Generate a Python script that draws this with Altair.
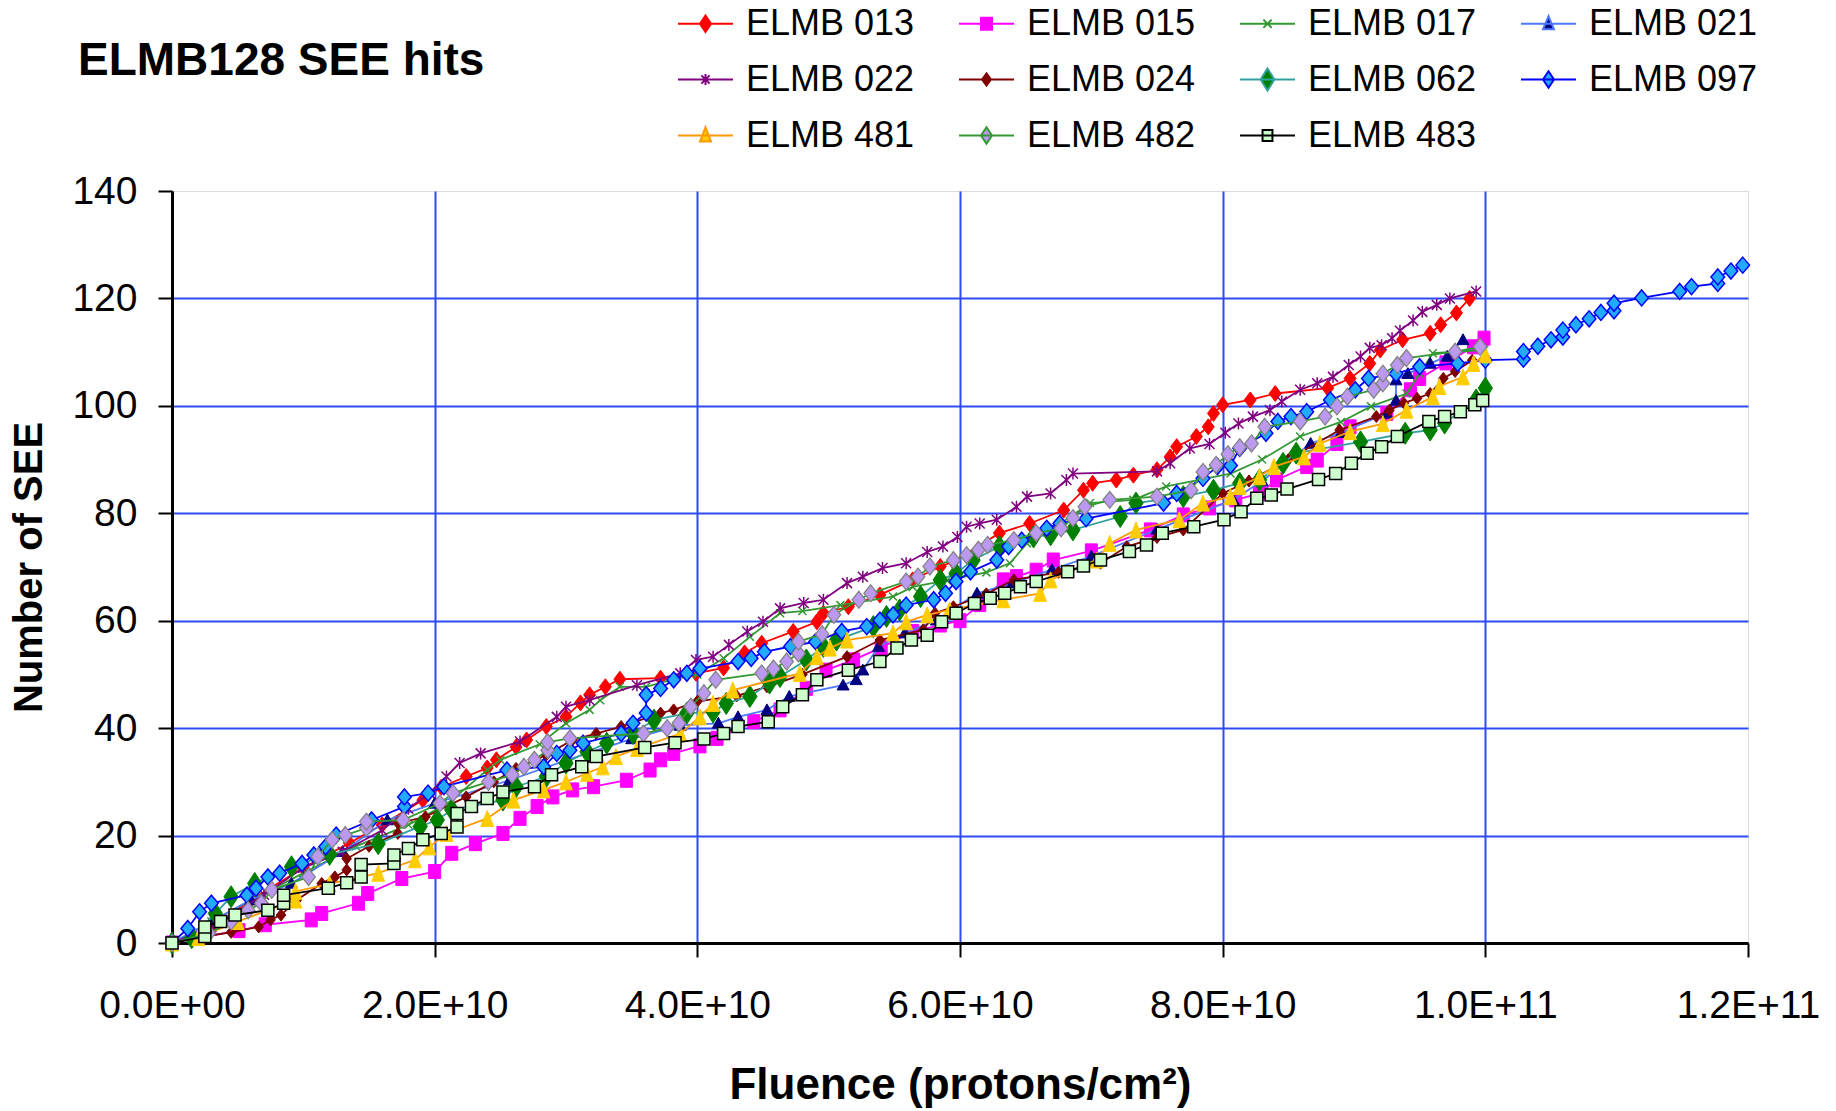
import altair as alt
import pandas as pd

# ---------------- data (fluence in units of 1E+10 protons/cm2, number of SEE) ----------------
SERIES = ["ELMB 013", "ELMB 015", "ELMB 017", "ELMB 021", "ELMB 022", "ELMB 024",
          "ELMB 062", "ELMB 097", "ELMB 481", "ELMB 482", "ELMB 483"]

S013 = [(0, 0), (0.3, 3), (0.6, 8), (1.0, 14), (1.35, 18.6), (1.6, 22), (1.91, 26.6), (2.05, 29),
        (2.24, 31), (2.40, 32.6), (2.47, 34.1), (2.62, 36.5), (2.70, 37.8), (2.85, 40.3), (3.0, 42.1),
        (3.11, 44.7), (3.18, 46.2), (3.30, 47.7), (3.41, 49.1), (3.72, 49.3), (3.99, 50.2), (4.20, 51.2),
        (4.36, 54), (4.49, 55.8), (4.73, 58), (4.91, 59.8), (4.96, 61.4), (5.15, 62.6), (5.39, 64.8),
        (5.64, 67.6), (5.85, 70.1), (5.95, 71), (6.30, 76.3), (6.53, 78.1), (6.79, 80.6), (6.94, 84.3),
        (7.01, 85.6), (7.19, 86.2), (7.32, 87.1), (7.50, 88.1), (7.60, 90.5), (7.65, 92.4), (7.80, 94.3),
        (7.89, 96.1), (7.93, 98.6), (8.0, 100.2), (8.21, 101.1), (8.40, 102.3), (8.80, 103.3),
        (8.97, 105.1), (9.12, 107.9), (9.20, 110.4), (9.37, 112.3), (9.58, 113.5), (9.66, 115.1),
        (9.78, 117.3), (9.88, 120)]

S015 = [(0, 0), (0.2, 1), (0.51, 2.3), (0.71, 3.4), (1.06, 4.3), (1.14, 5.5), (1.42, 7.4), (1.49, 9.2),
        (1.75, 12), (2.0, 13.3), (2.13, 16.7), (2.31, 18.5), (2.52, 20.4), (2.65, 23.2), (2.78, 25.4),
        (2.90, 27.2), (3.05, 28.5), (3.21, 29.1), (3.46, 30.3), (3.64, 32.2), (3.72, 34.1), (3.82, 35.3),
        (4.02, 36.7), (4.15, 38.1), (4.43, 41.2), (4.63, 43.4), (4.83, 47.4), (4.98, 50.8), (5.19, 52.7),
        (5.40, 55), (5.64, 58), (5.85, 59.2), (6.0, 60), (6.15, 63), (6.33, 67.6), (6.43, 68.2),
        (6.58, 69.4), (6.71, 71.3), (7.0, 73), (7.45, 76.9), (7.70, 79.7), (7.9, 81), (8.1, 82.5),
        (8.28, 83.7), (8.41, 86.2), (8.64, 88.7), (8.72, 89.9), (8.87, 93), (8.97, 96.1), (9.25, 98.6),
        (9.43, 103), (9.50, 105.1), (9.70, 108), (9.91, 111), (9.99, 112.6)]

S017 = [(0, 0), (0.3, 4), (0.6, 8), (1.0, 13), (1.4, 18), (1.8, 22), (2.1, 26), (2.40, 32.2),
        (2.50, 34.1), (2.8, 37), (3.0, 40.9), (3.18, 43.4), (3.26, 45.2), (3.41, 47.7), (3.61, 47.7),
        (3.8, 49), (4.0, 50), (4.2, 53), (4.4, 57), (4.63, 61.4), (4.8, 61.8), (5.09, 62.9), (5.49, 64.5),
        (5.64, 66.3), (5.9, 67.5), (6.2, 69), (6.38, 70.7), (6.51, 74.4), (6.7, 77), (6.99, 81.9),
        (7.32, 82.5), (7.57, 85), (8.06, 87.4), (8.3, 90), (8.59, 94.3), (8.9, 97), (9.13, 99.9),
        (9.40, 102.3), (9.5, 106), (9.60, 109.8), (9.99, 110.4)]

S021 = [(0, 0), (0.3, 4), (0.6, 8), (0.91, 11.1), (1.3, 17), (1.64, 22.9), (2.0, 26), (2.57, 30.3),
        (3.0, 34), (3.5, 38), (3.87, 40.5), (4.16, 40.9), (4.31, 42.1), (4.53, 43.4), (4.70, 45.9),
        (5.11, 48), (5.21, 49), (5.26, 50.8), (5.38, 55.2), (5.58, 57.7), (5.82, 60.1), (6.13, 65.1),
        (6.4, 67), (6.7, 69.5), (7.0, 72), (7.5, 77), (8.08, 82.5), (8.3, 86), (8.67, 93), (8.9, 95),
        (9.25, 98.6), (9.32, 101), (9.32, 104.8), (9.41, 106), (9.58, 107.9), (9.71, 109.2), (9.83, 112.3)]

S022 = [(0, 0), (0.3, 3), (0.7, 9), (1.0, 14), (1.3, 17), (1.6, 21), (1.8, 25), (1.96, 27.9), (2.09, 31),
        (2.19, 33.5), (2.35, 35.3), (2.65, 37.5), (2.93, 42.1), (3.0, 44), (3.18, 45.2), (3.54, 48),
        (3.87, 50.2), (3.99, 52.7), (4.12, 53.3), (4.24, 55.5), (4.38, 58), (4.50, 59.8), (4.63, 62.3),
        (4.81, 63.3), (4.96, 63.9), (5.14, 67), (5.26, 68.2), (5.41, 69.8), (5.59, 70.7), (5.75, 72.8),
        (5.87, 73.8), (5.98, 75.6), (6.05, 77.5), (6.15, 78.1), (6.28, 78.8), (6.43, 81.2), (6.51, 83.1),
        (6.69, 83.7), (6.81, 86.2), (6.86, 87.4), (7.50, 87.8), (7.60, 89.3), (7.75, 92.1), (7.90, 92.9),
        (8.02, 95), (8.12, 96.7), (8.23, 98), (8.36, 99.2), (8.45, 100.8), (8.59, 103), (8.72, 104.2),
        (8.84, 105.4), (8.96, 107.6), (9.05, 109.2), (9.12, 110.8), (9.21, 111.3), (9.29, 112.6),
        (9.35, 114), (9.45, 115.9), (9.52, 117.5), (9.63, 118.8), (9.73, 120), (9.93, 121.3)]

S024 = [(0, 0), (0.2, 1), (0.45, 2), (0.66, 3), (0.75, 4.3), (0.83, 5.2), (0.95, 8), (1.14, 11.1),
        (1.24, 12.3), (1.33, 13.6), (1.33, 15.7), (1.5, 18), (1.72, 20.4), (1.72, 22.3), (1.93, 23.5),
        (2.24, 27.2), (2.45, 30), (2.62, 32.5), (2.85, 35), (3.05, 37.8), (3.23, 39), (3.42, 40.3),
        (3.72, 42.8), (3.82, 43.4), (4.0, 45), (4.3, 46), (4.53, 47.7), (4.8, 50), (5.14, 53.3),
        (5.39, 56.4), (5.72, 58.3), (5.81, 61.4), (5.95, 62.6), (6.2, 65), (6.41, 67.6), (6.75, 69),
        (7.07, 70.7), (7.27, 73.8), (7.5, 75.5), (7.70, 76.9), (8.0, 83.7), (8.2, 86), (8.5, 90),
        (8.89, 95.5), (9.17, 98), (9.27, 99.2), (9.38, 100.5), (9.48, 101.4), (9.58, 102.3),
        (9.68, 105.1), (9.77, 106.4), (9.9, 108.5)]

S062 = [(0, 0), (0.15, 1), (0.33, 5.5), (0.45, 8.6), (0.63, 11.1), (0.91, 14.2), (1.2, 16.5),
        (1.57, 18.5), (1.89, 21.7), (2.02, 22.9), (2.13, 24.8), (2.52, 26.6), (2.62, 29.1), (2.85, 31),
        (3.0, 33.5), (3.16, 35.6), (3.31, 37.2), (3.51, 39), (3.67, 41.5), (3.92, 42.8), (4.12, 43),
        (4.22, 44.6), (4.40, 45.9), (4.55, 48.4), (4.63, 49.6), (4.83, 52.7), (4.96, 55.2), (5.06, 56.4),
        (5.34, 58.9), (5.44, 60.8), (5.54, 62), (5.70, 64.5), (5.85, 67.6), (5.97, 68.8), (6.10, 71.3),
        (6.30, 73.8), (6.56, 75.6), (6.69, 76), (6.86, 76.9), (7.22, 79.4), (7.34, 81.9), (7.70, 83.1),
        (7.93, 84.3), (8.13, 85.6), (8.28, 86.2), (8.46, 89.3), (8.56, 91.2), (9.05, 93.3), (9.39, 94.9),
        (9.58, 95.5), (9.69, 96.8), (9.93, 101.1), (10.0, 103.3)]

S097 = [(0, 0), (0.12, 2.7), (0.21, 5.8), (0.30, 7.4), (0.57, 8.9), (0.64, 10.2), (0.73, 12.3),
        (0.82, 13), (0.99, 14.8), (1.08, 16.4), (1.17, 17.9), (1.25, 20.1), (1.52, 22.9), (1.77, 25.4),
        (1.77, 27.2), (1.95, 27.9), (2.07, 29.1), (2.55, 32.2), (2.83, 32.8), (2.93, 35.3), (3.03, 35.9),
        (3.13, 37.2), (3.42, 39), (3.51, 40.9), (3.61, 42.8), (3.61, 46.2), (3.72, 47.4), (3.82, 49),
        (3.92, 50.2), (4.02, 51.1), (4.31, 52.4), (4.41, 53), (4.51, 54.2), (4.71, 55.2), (4.90, 56.1),
        (5.10, 58), (5.29, 58.9), (5.39, 60.1), (5.49, 61.1), (5.59, 62.9), (5.80, 63.9), (5.89, 65.1),
        (5.97, 67.3), (6.08, 69.1), (6.28, 71.3), (6.37, 73.8), (6.47, 75), (6.66, 77.2), (6.76, 78.1),
        (6.96, 79), (7.55, 81.9), (7.65, 83.7), (7.85, 86.5), (7.96, 88.7), (8.06, 88.9), (8.13, 92.1),
        (8.33, 94.9), (8.42, 97.1), (8.52, 98), (8.64, 98.9), (8.82, 101.1), (9.01, 103), (9.11, 105.1),
        (9.32, 106), (9.50, 107.3), (9.79, 107.9), (10.0, 108.5), (10.29, 108.7), (10.29, 110.1),
        (10.40, 111.1), (10.50, 112.3), (10.59, 112.8), (10.59, 114.1), (10.69, 115.1), (10.79, 116.2),
        (10.88, 117.4), (10.98, 117.7), (10.98, 119.1), (11.19, 120.1), (11.48, 121.3), (11.57, 122.2),
        (11.77, 122.8), (11.77, 124), (11.87, 125.1), (11.96, 126.2)]

S481 = [(0, 0), (0.2, 1), (0.5, 4), (0.94, 8), (0.94, 9.6), (1.2, 11), (1.57, 13), (1.85, 15.5),
        (1.96, 17.9), (2.09, 20.4), (2.40, 23.2), (2.60, 26.6), (2.83, 28.5), (3.0, 30), (3.16, 31.6),
        (3.28, 32.8), (3.38, 34.7), (3.54, 36.2), (3.87, 39), (4.02, 42.1), (4.12, 44.6), (4.27, 47.1),
        (4.78, 50.2), (4.91, 53.3), (5.01, 54.9), (5.14, 56.4), (5.49, 57.7), (5.59, 59.8), (5.75, 61.1),
        (5.92, 62), (6.33, 63.9), (6.61, 65.1), (6.69, 67.6), (7.04, 71.3), (7.14, 74.4), (7.34, 76.9),
        (7.67, 78.8), (7.85, 81.9), (8.06, 83.1), (8.13, 85), (8.28, 86.8), (8.39, 88.7), (8.62, 90.5),
        (8.74, 93), (8.97, 95.2), (9.22, 96.7), (9.40, 99.2), (9.60, 101.7), (9.65, 103.6),
        (9.83, 105.4), (9.91, 107.9), (10.0, 109.5)]

S482 = [(0, 0), (0.28, 1.8), (0.45, 4), (0.58, 6.1), (0.68, 7.4), (0.76, 9.9), (1.04, 12.3),
        (1.11, 16.1), (1.22, 19.2), (1.32, 20.1), (1.48, 21.4), (1.48, 22.6), (1.76, 22.9), (2.04, 26),
        (2.14, 27.9), (2.41, 30), (2.59, 31.3), (2.68, 32.8), (2.76, 34.1), (2.86, 35.9), (2.86, 37.4),
        (3.03, 38.1), (3.59, 39), (3.77, 40), (3.86, 40.9), (3.95, 44), (4.05, 46.5), (4.14, 49),
        (4.49, 50.2), (4.58, 51.1), (4.68, 52.4), (4.77, 53.9), (4.77, 56.1), (4.95, 57.5), (5.04, 61.1),
        (5.23, 63.9), (5.32, 65.1), (5.59, 67.3), (5.68, 68.2), (5.77, 70.1), (5.95, 71.3), (6.05, 72.2),
        (6.14, 73.2), (6.21, 74.1), (6.41, 75), (6.58, 76.3), (6.77, 77.2), (6.86, 79.1), (6.95, 81.2),
        (7.14, 82.5), (7.50, 83.1), (7.76, 84.3), (7.85, 87.7), (7.95, 89), (8.04, 91), (8.13, 92.3),
        (8.22, 93), (8.32, 96.1), (8.59, 97.1), (8.78, 98), (8.87, 99.9), (8.95, 101.7), (9.15, 103),
        (9.22, 104.2), (9.22, 106), (9.33, 107.6), (9.40, 108.9), (9.77, 110.1), (9.96, 111)]

S483 = [(0, 0), (0.25, 1.2), (0.25, 3), (0.37, 4), (0.48, 5.2), (0.73, 6.1), (0.85, 7.4), (0.85, 8.9),
        (1.19, 10.2), (1.33, 11.2), (1.44, 12.3), (1.44, 14.6), (1.69, 14.8), (1.69, 16.4), (1.80, 17.6),
        (1.91, 19.2), (2.05, 20.4), (2.17, 21.6), (2.17, 24.1), (2.28, 25.4), (2.40, 26.9), (2.52, 28.1),
        (2.76, 29.1), (2.89, 31.3), (3.12, 32.8), (3.23, 34.7), (3.60, 36.4), (3.83, 37.3), (4.05, 38),
        (4.20, 39), (4.31, 40.3), (4.54, 41.2), (4.65, 44), (4.80, 46.2), (4.91, 49), (5.15, 50.8),
        (5.39, 52.4), (5.52, 54.9), (5.63, 56.4), (5.75, 57.3), (5.86, 59.8), (5.97, 61.4), (6.11, 63.2),
        (6.23, 64.2), (6.34, 65.1), (6.46, 66.3), (6.58, 67.3), (6.82, 69.1), (6.94, 70.2), (7.07, 71.3),
        (7.29, 72.9), (7.42, 74.1), (7.54, 76.3), (7.78, 77.5), (8.01, 78.8), (8.14, 80.3), (8.26, 82.8),
        (8.37, 83.4), (8.49, 84.5), (8.73, 86.3), (8.86, 87.4), (8.98, 89.3), (9.10, 91.2), (9.21, 92.4),
        (9.33, 94.3), (9.57, 97.1), (9.69, 98), (9.81, 98.9), (9.92, 100.2), (9.98, 101)]

POINTS = [S013, S015, S017, S021, S022, S024, S062, S097, S481, S482, S483]

X_TICKS = [0, 2e10, 4e10, 6e10, 8e10, 1e11, 1.2e11]
Y_TICKS = [0, 20, 40, 60, 80, 100, 120, 140]
TITLE = ["ELMB128 SEE hits"]

# ---------------- styles ----------------
LINE_COLORS = ["#FF0000", "#FF00FF", "#339933", "#4D79FF", "#800080", "#800000",
               "#33A0A0", "#0000FF", "#FF9900", "#339933", "#000000"]
MARK_FILL = ["#FF0000", "#FF00FF", "#339933", "#000080", "#800080", "#800000",
             "#008000", "#22AAFF", "#FFCC00", "#BB99EE", "#CCFFCC"]
MARK_STROKE = ["#FF0000", "#FF00FF", "#339933", "#000080", "#800080", "#800000",
               "#008000", "#0000FF", "#FFCC00", "#808080", "#000000"]
DIAMOND = "M0,-1L0.75,0L0,1L-0.75,0Z"
MARK_PATH = [DIAMOND,
             "M-0.86,-1H0.86V1H-0.86Z",
             "M-1,-1L1,1M-1,1L1,-1",
             "M0,-1L1,0.8H-1Z",
             "M-1,-1L1,1M-1,1L1,-1M0,-1.2V1.2",
             "M0,-1L0.8,0L0,1L-0.8,0Z",
             "M0,-1L0.65,0L0,1L-0.65,0Z",
             "M0,-1L0.85,0L0,1L-0.85,0Z",
             "M0,-1L0.8,1H-0.8Z",
             "M0,-1L0.8,0L0,1L-0.8,0Z",
             "M-1,-1H1V1H-1Z"]
MARK_SIZE = [256, 196, 64, 144, 100, 144, 484, 256, 256, 289, 144]
MARK_SW = [1, 1, 1.5, 1, 1.5, 1, 1, 1.5, 1, 1.2, 1.5]

LINE = "M-1,0H1"
LEGEND_PATH = [LINE + "M0,-0.3L0.2,0L0,0.3L-0.2,0Z",
               LINE + "M-0.2,-0.22H0.2V0.22H-0.2Z",
               LINE + "M-0.15,-0.15L0.15,0.15M-0.15,0.15L0.15,-0.15",
               LINE + "M0,-0.28L0.2,0.2H-0.2Z",
               LINE + "M-0.15,-0.15L0.15,0.15M-0.15,0.15L0.15,-0.15M0,-0.2V0.2",
               LINE + "M0,-0.22L0.16,0L0,0.22L-0.16,0Z",
               LINE + "M0,-0.4L0.25,0L0,0.4L-0.25,0Z",
               LINE + "M0,-0.3L0.2,0L0,0.3L-0.2,0Z",
               LINE + "M0,-0.3L0.2,0.22H-0.2Z",
               LINE + "M0,-0.3L0.2,0L0,0.3L-0.2,0Z",
               LINE + "M-0.18,-0.2H0.18V0.2H-0.18Z"]

FONT = "Liberation Sans"

rows = []
for name, pts in zip(SERIES, POINTS):
    for i, (x, y) in enumerate(pts):
        rows.append({"series": name, "fluence": x * 1e10, "see": y, "i": i})
df = pd.DataFrame(rows)

x_axis = alt.Axis(
    values=X_TICKS,
    labelExpr="datum.value == 0 ? '0.0E+00' : upper(format(datum.value, '.1e'))",
    title="Fluence (protons/cm²)",
    titleFontSize=44, titleFontWeight="bold", titlePadding=38,
    labelFontSize=39, labelPadding=29, labelFlush=False,
    tickSize=14, tickWidth=2, tickColor="black",
    domainColor="black", domainWidth=3,
    gridColor="#2E4BF5", gridWidth=2,
    gridOpacity={"condition": {"test": "datum.value >= 1.2e11", "value": 0}, "value": 1},
)
y_axis = alt.Axis(
    values=Y_TICKS,
    title="Number of SEE",
    titleFontSize=40, titleFontWeight="bold", titlePadding=22,
    labelFontSize=39, labelPadding=21, labelFlush=False,
    tickSize=14, tickWidth=2, tickColor="black",
    domainColor="black", domainWidth=3,
    gridColor="#2E4BF5", gridWidth=2,
    gridOpacity={"condition": {"test": "datum.value >= 140", "value": 0}, "value": 1},
)

base = alt.Chart(df).encode(
    x=alt.X("fluence:Q", scale=alt.Scale(domain=[0, 1.2e11], nice=False), axis=x_axis),
    y=alt.Y("see:Q", scale=alt.Scale(domain=[0, 140], nice=False), axis=y_axis),
)

layers = []
for k, name in enumerate(SERIES):
    sub = base.transform_filter(alt.datum.series == name)
    layers.append(sub.mark_line(color=LINE_COLORS[k], strokeWidth=1.8).encode(order="i:Q"))
    layers.append(sub.mark_point(shape=MARK_PATH[k], size=MARK_SIZE[k], filled=True,
                                 fill=MARK_FILL[k], stroke=MARK_STROKE[k],
                                 strokeWidth=MARK_SW[k], opacity=1))

leg = alt.Legend(orient="none", legendX=505, legendY=-196, columns=4, direction="horizontal",
                 title=None, labelFontSize=36, labelFont=FONT, labelColor="black", labelLimit=0,
                 symbolSize=3025, symbolStrokeWidth=2, labelOffset=12,
                 columnPadding=40, rowPadding=9, padding=0, gridAlign="all")

legend_layer = base.transform_filter("false").mark_point(filled=True, opacity=1).encode(
    shape=alt.Shape("series:N", scale=alt.Scale(domain=SERIES, range=LEGEND_PATH), legend=leg),
    fill=alt.Fill("series:N", scale=alt.Scale(domain=SERIES, range=MARK_FILL), legend=leg),
    stroke=alt.Stroke("series:N", scale=alt.Scale(domain=SERIES, range=LINE_COLORS), legend=leg),
)
layers.append(legend_layer)

title_layer = alt.Chart(pd.DataFrame({"t": TITLE})).mark_text(
    font=FONT, fontSize=46, fontWeight="bold", color="black", align="left", baseline="middle"
).encode(x=alt.value(-94), y=alt.value(-130), text="t:N")
layers.append(title_layer)

chart = alt.layer(*layers).properties(
    width=1576, height=752,
    autosize=alt.AutoSizeParams(type="none"),
    padding={"left": 172, "top": 191, "right": 88, "bottom": 168},
).configure_axis(
    labelFont=FONT, titleFont=FONT, labelColor="black", titleColor="black",
).configure_view(stroke="#A0A0A0", strokeWidth=2).configure(background="white")

chart.save("out.html", embed_options={"renderer": "svg", "actions": False})
